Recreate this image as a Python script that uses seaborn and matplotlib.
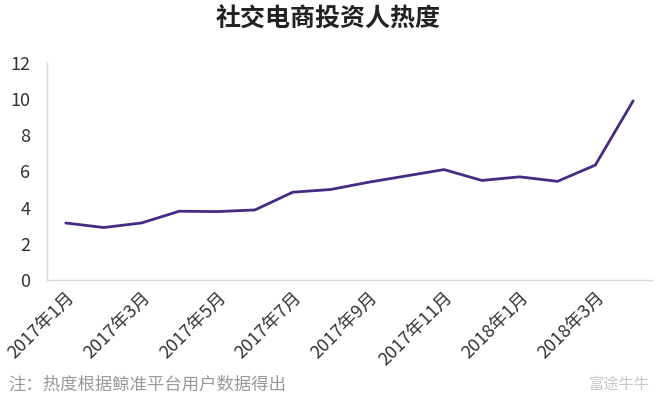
import pandas as pd
import seaborn as sns
from matplotlib import pyplot as plt

# monthly data, 2017-01 .. 2018-04
months = ['2017年1月', '2017年2月', '2017年3月', '2017年4月', '2017年5月', '2017年6月',
          '2017年7月', '2017年8月', '2017年9月', '2017年10月', '2017年11月', '2017年12月',
          '2018年1月', '2018年2月', '2018年3月', '2018年4月']
heat = [3.15, 2.9, 3.15, 3.8, 3.78, 3.87, 4.85, 5.0, 5.4, 5.75, 6.1,
        5.5, 5.7, 5.45, 6.35, 9.9]
tick_labels = months[::2]

df = pd.DataFrame({'month': months, 'heat': heat, 'pos': range(len(months))})

sns.set_style('white')
plt.rcParams['font.family'] = ['Noto Sans CJK SC', 'DejaVu Sans']

fig = plt.figure(figsize=(6.6, 4), dpi=100)
ax = fig.add_axes([0.071, 0.30, 0.917, 0.543])

sns.lineplot(data=df, x='pos', y='heat', color='#472b82', linewidth=2.0, ax=ax)

ax.set_xlim(-0.5, len(months) - 0.5)
ax.set_ylim(0, 12)
ax.set_yticks(range(0, 13, 2))
ax.set_xticks(df['pos'][::2])
ax.set_xticklabels(tick_labels, rotation=45, ha='right', rotation_mode='anchor')
ax.tick_params(axis='both', length=0, labelsize=13, colors='#333333')
ax.tick_params(axis='y', pad=12)
ax.tick_params(axis='x', pad=6)
ax.set_xlabel('')
ax.set_ylabel('')

for side in ['top', 'right']:
    ax.spines[side].set_visible(False)
for side in ['left', 'bottom']:
    ax.spines[side].set_color('#d9d9d9')
    ax.spines[side].set_linewidth(1.0)

fig.text(0.497, 0.952, '社交电商投资人热度', ha='center', va='center',
         fontsize=18, fontweight='bold', color='#222222')
fig.text(0.012, 0.038, '注：热度根据鲸准平台用户数据得出', ha='left', va='center',
         fontsize=12.5, color='#999999')
fig.text(0.985, 0.04, '富途牛牛', ha='right', va='center',
         fontsize=11, color='#c8c8c8')

plt.savefig('out.png', dpi=100)
